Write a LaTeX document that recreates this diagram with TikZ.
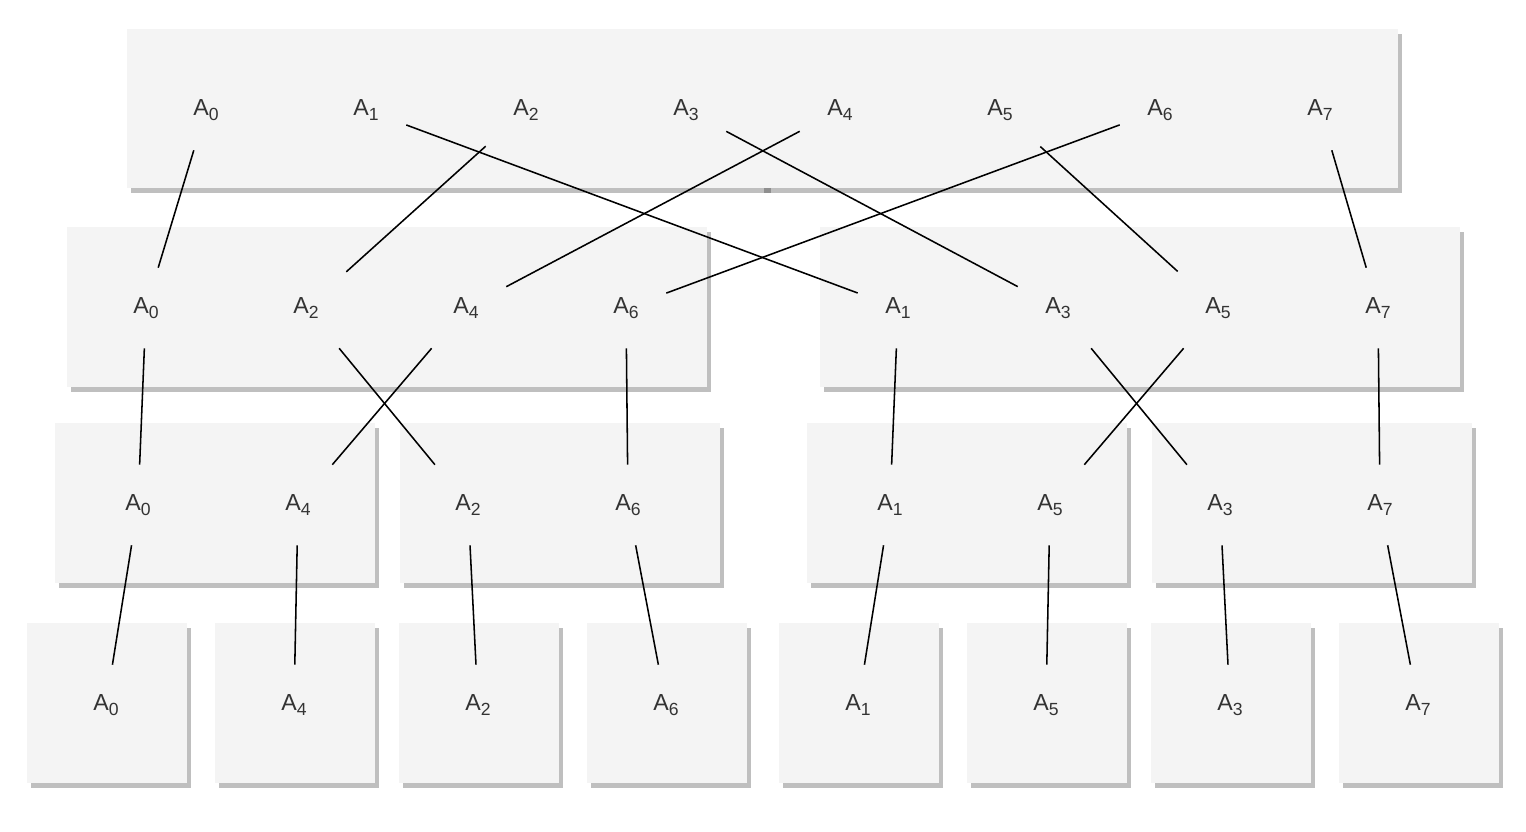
\documentclass[tikz,border=0pt]{standalone}
\usepackage{fontspec}
\setmainfont{Liberation Sans}
\definecolor{boxgray}{HTML}{F4F4F4}
\definecolor{txtgray}{HTML}{333333}
\newcommand{\arr}[1]{A\raisebox{-4pt}{\fontsize{12.5}{12.5}\selectfont #1}}
\tikzset{
  box/.style={fill=boxgray, preaction={fill=black, opacity=0.25, transform canvas={shift={(0.1cm,-0.125cm)}}}},
  lbl/.style={rectangle, minimum width=2cm, minimum height=2cm, inner sep=0pt, text=txtgray, font=\fontsize{16.5}{19}\selectfont},
  link/.style={line width=1.1pt, black}
}
\begin{document}
\begin{tikzpicture}[x=0.025cm, y=-0.025cm]
\useasboundingbox (0,0) rectangle (1526,832);
% boxes
\path[box] (127,29) rectangle (767,188);
\path[box] (760,29) rectangle (1398,188);
\path[box] (67,227) rectangle (707,387);
\path[box] (820,227) rectangle (1460,387);
\path[box] (55,423) rectangle (375,583);
\path[box] (400,423) rectangle (720,583);
\path[box] (807,423) rectangle (1127,583);
\path[box] (1152,423) rectangle (1472,583);
\foreach \x in {27,215,399,587,779,967,1151,1339}
  \path[box] (\x,623) rectangle ++(160,160);
% level 0
\node(t0) at (206,110)[lbl]  {\arr{0}};
\node(t1) at (366,110)[lbl]  {\arr{1}};
\node(t2) at (526,110)[lbl]  {\arr{2}};
\node(t3) at (686,110)[lbl]  {\arr{3}};
\node(t4) at (840,110)[lbl]  {\arr{4}};
\node(t5) at (1000,110)[lbl] {\arr{5}};
\node(t6) at (1160,110)[lbl] {\arr{6}};
\node(t7) at (1320,110)[lbl] {\arr{7}};
% level 1
\node(m0) at (146,308)[lbl]  {\arr{0}};
\node(m2) at (306,308)[lbl]  {\arr{2}};
\node(m4) at (466,308)[lbl]  {\arr{4}};
\node(m6) at (626,308)[lbl]  {\arr{6}};
\node(m1) at (898,308)[lbl]  {\arr{1}};
\node(m3) at (1058,308)[lbl] {\arr{3}};
\node(m5) at (1218,308)[lbl] {\arr{5}};
\node(m7) at (1378,308)[lbl] {\arr{7}};
% level 2
\node(q0) at (138,505)[lbl]  {\arr{0}};
\node(q4) at (298,505)[lbl]  {\arr{4}};
\node(q2) at (468,505)[lbl]  {\arr{2}};
\node(q6) at (628,505)[lbl]  {\arr{6}};
\node(q1) at (890,505)[lbl]  {\arr{1}};
\node(q5) at (1050,505)[lbl] {\arr{5}};
\node(q3) at (1220,505)[lbl] {\arr{3}};
\node(q7) at (1380,505)[lbl] {\arr{7}};
% level 3
\node(s0) at (106,705)[lbl]  {\arr{0}};
\node(s4) at (294,705)[lbl]  {\arr{4}};
\node(s2) at (478,705)[lbl]  {\arr{2}};
\node(s6) at (666,705)[lbl]  {\arr{6}};
\node(s1) at (858,705)[lbl]  {\arr{1}};
\node(s5) at (1046,705)[lbl] {\arr{5}};
\node(s3) at (1230,705)[lbl] {\arr{3}};
\node(s7) at (1418,705)[lbl] {\arr{7}};
\foreach \i in {0,...,7}{
  \draw[link] (t\i) -- (m\i);
  \draw[link] (m\i) -- (q\i);
  \draw[link] (q\i) -- (s\i);
}
\end{tikzpicture}
\end{document}
